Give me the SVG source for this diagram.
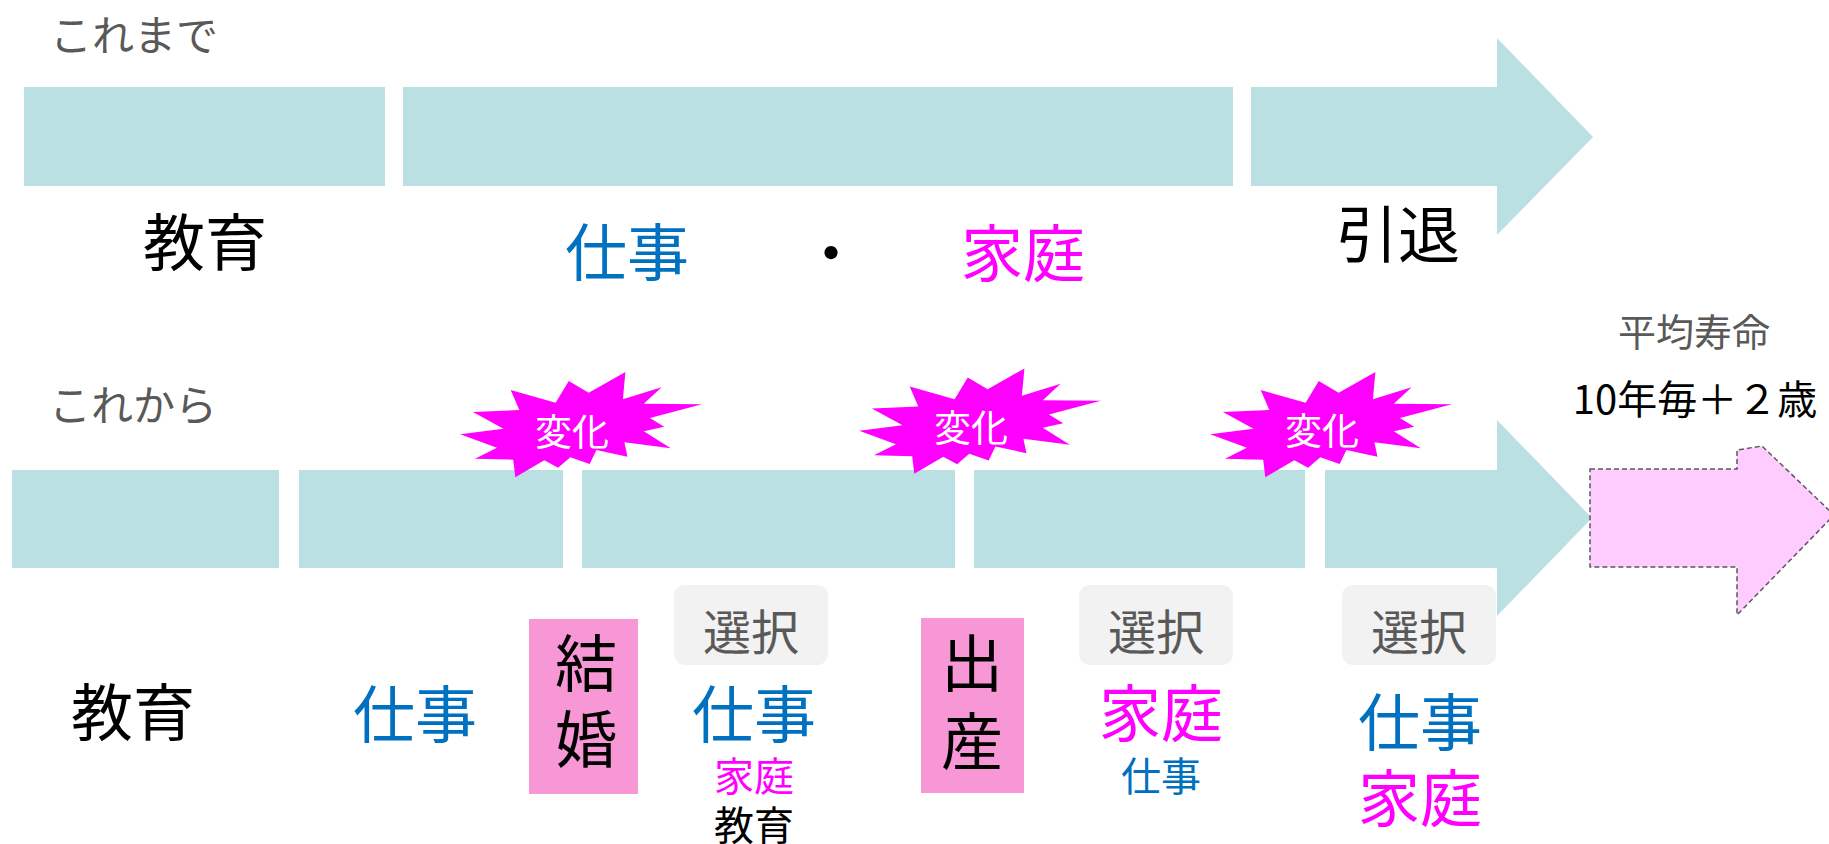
<svg xmlns="http://www.w3.org/2000/svg" width="1829" height="844" viewBox="0 0 1829 844">
<style>
text{font-family:"Noto Sans CJK JP","Noto Sans",sans-serif;dominant-baseline:central;text-anchor:middle}
.bar{fill:#BBE0E3}
.big{font-size:62px}
.small{font-size:40px}
.blk{fill:#000}
.blue{fill:#0070C0}
.mag{fill:#FF00FF}
.gray{fill:#595959}
.sel{fill:#F2F2F2}
.pinkbox{fill:#F797D5}
.burst{fill:#FF00FF}
.bt{fill:#FFFFFF;font-size:37px}
.head{font-size:42px}
</style>
<defs>
<polygon id="burstShape" points="460.2,434.3 503.5,428.7 472.9,412 519.3,410 510.7,390 555.6,402.7 568.8,381 588.7,392.7 625.4,372 622.9,399.3 661.6,387.3 643.8,403.7 701.9,404.3 649.9,418 664.2,426.7 643.8,431.3 670.8,448.3 624.4,442.3 627.5,456.7 596.4,450 589.7,464 570.3,457.3 558.1,467.7 544.3,460.3 515.3,477.3 513.2,459.7 475,458.7 496.9,447.7"/>
</defs>

<g id="top-timeline">
<text x="134" y="32" class="gray head">これまで</text>
<rect id="top-edu" class="bar" x="24" y="87" width="361" height="99"/>
<rect id="top-work" class="bar" x="403" y="87" width="830" height="99"/>
<polygon id="top-retire" class="bar" points="1251,87 1497,87 1497,38 1593,137 1497,235 1497,186 1251,186"/>
<text x="205" y="239" class="big blk">教育</text>
<text x="627" y="249" class="big blue">仕事</text>
<text x="831" y="250" class="big blk">・</text>
<text x="1023" y="250" class="big mag">家庭</text>
<text x="1398" y="231" class="big blk">引退</text>
</g>

<g id="bottom-timeline">
<text x="133" y="402" class="gray head">これから</text>
<rect id="seg-a" class="bar" x="12" y="470" width="267" height="98"/>
<rect id="seg-b" class="bar" x="299" y="470" width="264" height="98"/>
<rect id="seg-c" class="bar" x="582" y="470" width="373" height="98"/>
<rect id="seg-d" class="bar" x="974" y="470" width="331" height="98"/>
<polygon id="seg-e" class="bar" points="1325,470 1497,470 1497,420 1592,518 1497,616 1497,568 1325,568"/>
</g>

<g id="extension">
<polygon points="1590,469 1737,469 1737,450 1762,446 1834,515 1737,615 1737,567 1590,567" fill="#FFCCFF" stroke="#595959" stroke-width="1.5" stroke-dasharray="5,3"/>
<text x="1694" y="329" class="gray" style="font-size:38px">平均寿命</text>
<text x="1695" y="397" class="blk" style="font-size:40px">10年毎＋２歳</text>
</g>

<g id="change-1">
<use href="#burstShape" class="burst"/>
<text x="572" y="430" class="bt">変化</text>
</g>
<g id="change-2">
<use href="#burstShape" class="burst" transform="translate(399,-3.5)"/>
<text x="971" y="426" class="bt">変化</text>
</g>
<g id="change-3">
<use href="#burstShape" class="burst" transform="translate(750,0)"/>
<text x="1322" y="429" class="bt">変化</text>
</g>

<g id="label-edu">
<text x="133" y="709" class="big blk">教育</text>
</g>
<g id="label-work">
<text x="415" y="711" class="big blue">仕事</text>
</g>
<g id="event-marriage">
<rect class="pinkbox" x="529" y="619" width="109" height="175"/>
<text x="586" y="660" class="big blk">結</text>
<text x="586" y="736" class="big blk">婚</text>
</g>
<g id="choice-1">
<rect class="sel" x="674" y="585" width="154" height="80" rx="11"/>
<text x="751" y="629" class="gray" style="font-size:48px">選択</text>
<text x="754" y="711" class="big blue">仕事</text>
<text x="754" y="774" class="small mag">家庭</text>
<text x="754" y="823" class="small blk">教育</text>
</g>
<g id="event-birth">
<rect class="pinkbox" x="921" y="618" width="103" height="175"/>
<text x="972" y="660" class="big blk">出</text>
<text x="972" y="738" class="big blk">産</text>
</g>
<g id="choice-2">
<rect class="sel" x="1079" y="585" width="154" height="80" rx="11"/>
<text x="1156" y="629" class="gray" style="font-size:48px">選択</text>
<text x="1161" y="710" class="big mag">家庭</text>
<text x="1161" y="774" class="small blue">仕事</text>
</g>
<g id="choice-3">
<rect class="sel" x="1342" y="585" width="154" height="80" rx="11"/>
<text x="1419" y="629" class="gray" style="font-size:48px">選択</text>
<text x="1420" y="719" class="big blue">仕事</text>
<text x="1420" y="795" class="big mag">家庭</text>
</g>
<g id="connectors"></g>
</svg>
